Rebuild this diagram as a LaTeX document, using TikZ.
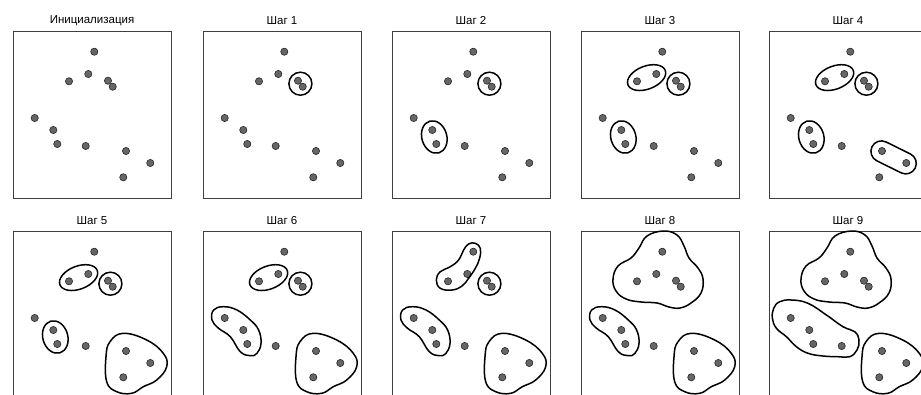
\documentclass[tikz,border=0pt]{standalone}
\usepackage{fontspec}
\setmainfont{Liberation Sans}
\usepackage{tikz}

% point cloud, relative to the top left corner of a panel
\newcommand\pointlist{81.3/20.7, 75.3/43, 56/50.3, 95/49.7, 99.7/55.7, 21.7/87,
  40.3/99, 44.3/113, 72.7/115, 113/120, 137.3/132, 110.3/146.3}
% draw #3 only for steps #1..#2
\newcommand\during[3]{\ifnum\n<#1\relax\else\ifnum\n>#2\relax\else#3\fi\fi}

\begin{document}
\begin{tikzpicture}[x=1pt, y=-1pt,
  frame/.style={draw=black!75, line width=0.9pt},
  dot/.style={fill=black!60, draw=black!85, line width=0.6pt},
  blob/.style={draw=black, line width=1.5pt, line join=round},
  ttl/.style={font=\fontsize{11.5}{13}\selectfont, inner sep=0pt}
]
  \useasboundingbox (0,0) rectangle (921,394);
  \clip (0,0) rectangle (921,394);

  \foreach \px/\py/\n/\title in {13/31/0/Инициализация, 203/31/1/Шаг 1,
      392/31/2/Шаг 2, 581/31/3/Шаг 3, 769/31/4/Шаг 4, 13/231/5/Шаг 5,
      203/231/6/Шаг 6, 392/231/7/Шаг 7, 581/231/8/Шаг 8, 769/231/9/Шаг 9} {
    \begin{scope}[shift={(\px,\py)}]
      \node[ttl] (t\n) at (79,-10.5) {\title};
      \draw[frame] (0,0) rectangle (158,167);
      \foreach \a/\b in \pointlist
        \draw[dot] (\a,\b) circle[radius=3.6];

      % merged groups
      \during{1}{7}{\draw[blob] (97.4,52.7) circle[radius=11.5];}
      \during{2}{5}{\draw[blob, rotate around={16:(42.3,106)}]
        (42.3,106) ellipse[x radius=12.5, y radius=16.5];}
      \during{3}{6}{\draw[blob, rotate around={21:(65.6,46.6)}]
        (65.6,46.6) ellipse[x radius=20, y radius=11.5];}
      \during{4}{4}{\draw[blob, rounded corners=10.5pt,
          rotate around={-26.3:(124.6,126.4)}]
        (100.5,115.9) rectangle (148.7,136.9);}
      \during{5}{9}{\draw[blob] plot[smooth cycle, tension=0.7] coordinates {
        (110.3,102.3) (133.7,109) (150.3,122.3) (153.7,135.7) (143.7,149)
        (130.3,155.7) (118.7,162.3) (103.7,160.7) (93.7,150.7) (93,125.7)
        (97,110.7)};}
      \during{6}{8}{\draw[blob] plot[smooth cycle, tension=0.7] coordinates {
        (10.6,79) (20.6,75.7) (34,79) (47.3,89) (55.6,99) (58,112.3)
        (54,122.3) (47.3,124.7) (37.3,120.7) (27.3,105.7) (15.6,97.3)
        (9,89)};}
      \during{7}{7}{\draw[blob] plot[smooth cycle, tension=0.7] coordinates {
        (83.3,12.3) (88.3,17.3) (87.6,27.3) (83.3,37.3) (76.6,47.3)
        (70,55) (60,59) (48.3,57.3) (44.3,49) (48.3,40.7) (58.3,35.7)
        (66.6,29) (71.6,19) (76.6,13)};}
      \during{8}{9}{\draw[blob] plot[smooth cycle, tension=0.7] coordinates {
        (82.6,0) (96,4) (103,15) (108,27) (117,37) (122,48) (120,62)
        (110,72) (99,77) (88,76) (76,72) (60,71) (45,68) (35,60) (32,48)
        (37,35) (50,27) (58,17) (66,5)};}
      \during{9}{9}{\draw[blob] plot[smooth cycle, tension=0.7] coordinates {
        (10.7,70.7) (22.4,69) (39,72.3) (57.4,84) (74,95.7) (85.7,100.7)
        (90,109) (88,119) (80.7,125.7) (69,125.7) (54,125) (39,122.3)
        (27.4,115.7) (17.4,105.7) (7.4,97.3) (3.4,87.3) (4.7,77.3)};}
    \end{scope}
  }
\end{tikzpicture}
\end{document}
